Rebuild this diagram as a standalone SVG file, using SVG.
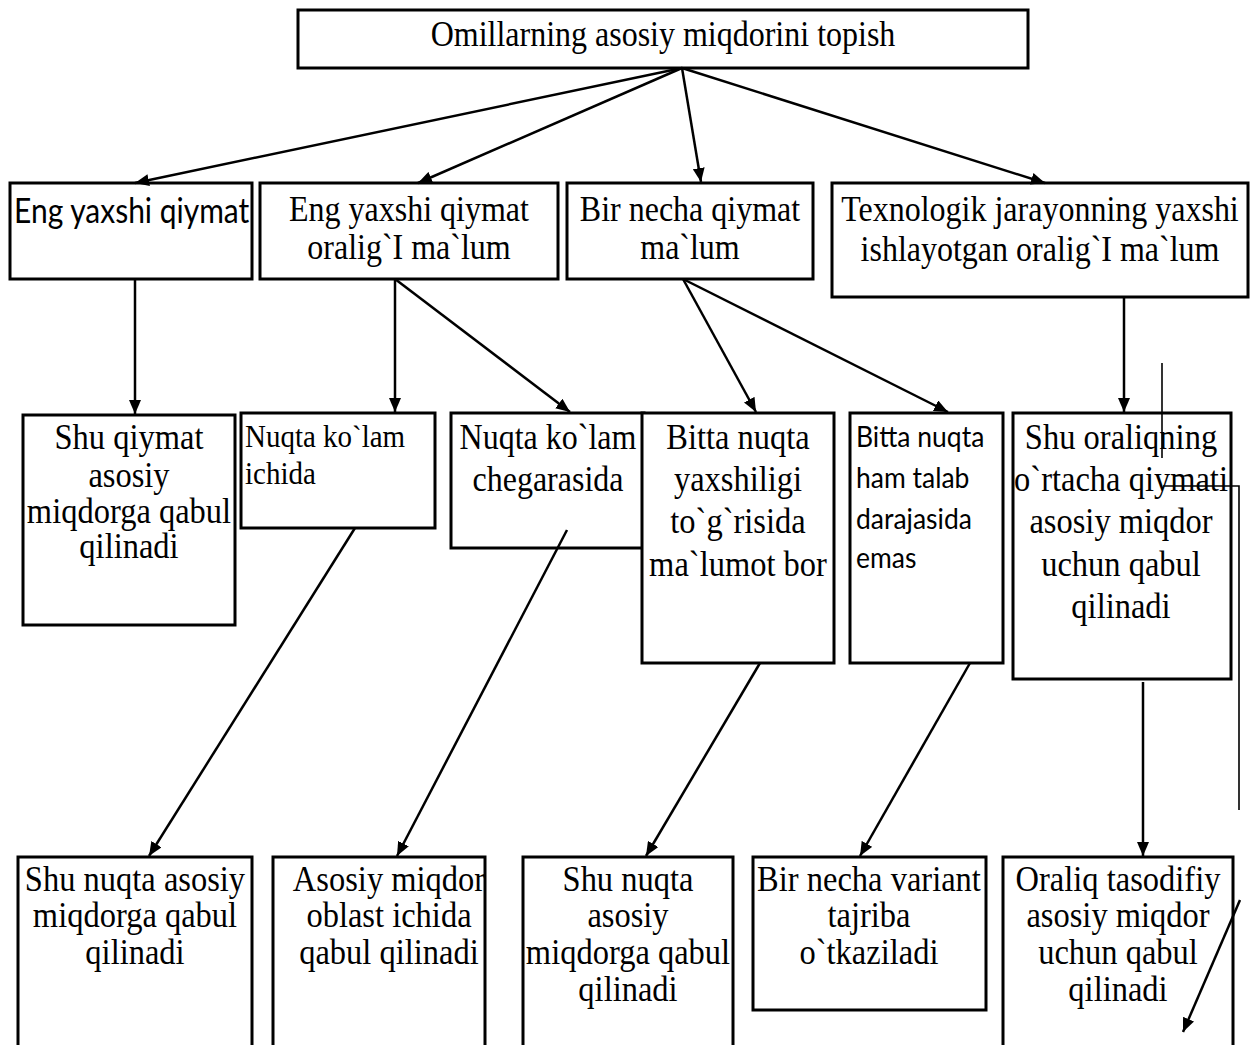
<svg xmlns="http://www.w3.org/2000/svg" width="1250" height="1045" viewBox="0 0 1250 1045">
<style>
.box{fill:#fff;stroke:#000;stroke-width:3}
.t{font-family:"Liberation Serif","Times New Roman",serif;font-size:32px;fill:#000;text-anchor:middle}
.t3{font-family:"Liberation Serif","Times New Roman",serif;font-size:32.5px;fill:#000;text-anchor:middle}
.tl{font-family:"Liberation Serif","Times New Roman",serif;font-size:29px;fill:#000}
.s{font-family:Lato,"Open Sans",sans-serif;fill:#000}
.c{fill:none;stroke:#000;stroke-width:2.5}
.thin{fill:none;stroke:#000;stroke-width:1.6}
</style>
<defs>
<marker id="ah" markerUnits="userSpaceOnUse" markerWidth="14" markerHeight="12" viewBox="0 0 14 12" refX="14" refY="6" orient="auto">
<path d="M0,0 L14,6 L0,12 z" fill="#000"/>
</marker>
</defs>
<rect width="1250" height="1045" fill="#fff"/>
<g id="n-top"><rect class="box" x="298" y="10" width="730" height="58"/><text class="t" transform="matrix(1 0 0 1.14 663 46)">Omillarning asosiy miqdorini topish</text></g>
<g id="n-a"><rect class="box" x="10" y="183" width="242" height="96"/><text class="s" font-size="30" transform="matrix(1 0 0 1.14 14 223)">Eng yaxshi qiymat</text></g>
<g id="n-b"><rect class="box" x="260" y="183" width="298" height="96"/><text class="t" transform="matrix(1 0 0 1.14 409 221)">Eng yaxshi qiymat</text><text class="t" transform="matrix(1 0 0 1.14 409 259)">oralig`I ma`lum</text></g>
<g id="n-c"><rect class="box" x="567" y="183" width="246" height="96"/><text class="t" transform="matrix(1 0 0 1.14 690 221)">Bir necha qiymat</text><text class="t" transform="matrix(1 0 0 1.14 690 259)">ma`lum</text></g>
<g id="n-d"><rect class="box" x="832" y="183" width="416" height="114"/><text class="t" transform="matrix(1 0 0 1.14 1040 221)">Texnologik jarayonning yaxshi</text><text class="t" transform="matrix(1 0 0 1.14 1040 261)">ishlayotgan oralig`I ma`lum</text></g>
<g id="n-e"><rect class="box" x="23" y="415" width="212" height="210"/><text class="t3" transform="matrix(1 0 0 1.12 129 449)">Shu qiymat</text><text class="t3" transform="matrix(1 0 0 1.12 129 487)">asosiy</text><text class="t3" transform="matrix(1 0 0 1.12 129 523)">miqdorga qabul</text><text class="t3" transform="matrix(1 0 0 1.12 129 558)">qilinadi</text></g>
<g id="n-f"><rect class="box" x="241" y="413" width="194" height="115"/><text class="tl" transform="matrix(1 0 0 1.12 245 447)">Nuqta ko`lam</text><text class="tl" transform="matrix(1 0 0 1.12 245 484)">ichida</text></g>
<g id="n-g"><rect class="box" x="451" y="413" width="193" height="135"/><text class="t" transform="matrix(1 0 0 1.12 548 449)">Nuqta ko`lam</text><text class="t" transform="matrix(1 0 0 1.12 548 491)">chegarasida</text></g>
<g id="n-h"><rect class="box" x="642" y="413" width="192" height="250"/><text class="t3" transform="matrix(1 0 0 1.12 738 449)">Bitta nuqta</text><text class="t3" transform="matrix(1 0 0 1.12 738 491)">yaxshiligi</text><text class="t3" transform="matrix(1 0 0 1.12 738 533)">to`g`risida</text><text class="t3" transform="matrix(1 0 0 1.12 738 576)">ma`lumot bor</text></g>
<g id="n-i"><rect class="box" x="850" y="413" width="153" height="250"/><g class="s" font-size="26.5"><text transform="matrix(1 0 0 1.12 856 447)">Bitta nuqta</text><text transform="matrix(1 0 0 1.12 856 488)">ham talab</text><text transform="matrix(1 0 0 1.12 856 529)">darajasida</text><text transform="matrix(1 0 0 1.12 856 568)">emas</text></g></g>
<g id="n-j"><rect class="box" x="1013" y="413" width="218" height="266"/><text class="t3" transform="matrix(1 0 0 1.12 1121 449)">Shu oraliqning</text><text class="t3" transform="matrix(1 0 0 1.12 1121 491)">o`rtacha qiymati</text><text class="t3" transform="matrix(1 0 0 1.12 1121 533)">asosiy miqdor</text><text class="t3" transform="matrix(1 0 0 1.12 1121 576)">uchun qabul</text><text class="t3" transform="matrix(1 0 0 1.12 1121 618)">qilinadi</text></g>
<g id="n-k"><rect class="box" x="18" y="857" width="234" height="220"/><text class="t3" transform="matrix(1 0 0 1.12 135 891)">Shu nuqta asosiy</text><text class="t3" transform="matrix(1 0 0 1.12 135 927)">miqdorga qabul</text><text class="t3" transform="matrix(1 0 0 1.12 135 964)">qilinadi</text></g>
<g id="n-l"><rect class="box" x="273" y="857" width="212" height="220"/><text class="t3" transform="matrix(1 0 0 1.12 389 891)">Asosiy miqdor</text><text class="t3" transform="matrix(1 0 0 1.12 389 927)">oblast ichida</text><text class="t3" transform="matrix(1 0 0 1.12 389 964)">qabul qilinadi</text></g>
<g id="n-m"><rect class="box" x="523" y="857" width="210" height="220"/><text class="t3" transform="matrix(1 0 0 1.12 628 891)">Shu nuqta</text><text class="t3" transform="matrix(1 0 0 1.12 628 927)">asosiy</text><text class="t3" transform="matrix(1 0 0 1.12 628 964)">miqdorga qabul</text><text class="t3" transform="matrix(1 0 0 1.12 628 1001)">qilinadi</text></g>
<g id="n-n"><rect class="box" x="753" y="857" width="233" height="153"/><text class="t3" transform="matrix(1 0 0 1.12 869 891)">Bir necha variant</text><text class="t3" transform="matrix(1 0 0 1.12 869 927)">tajriba</text><text class="t3" transform="matrix(1 0 0 1.12 869 964)">o`tkaziladi</text></g>
<g id="n-o"><rect class="box" x="1003" y="857" width="230" height="220"/><text class="t3" transform="matrix(1 0 0 1.12 1118 891)">Oraliq tasodifiy</text><text class="t3" transform="matrix(1 0 0 1.12 1118 927)">asosiy miqdor</text><text class="t3" transform="matrix(1 0 0 1.12 1118 964)">uchun qabul</text><text class="t3" transform="matrix(1 0 0 1.12 1118 1001)">qilinadi</text></g>
<g id="connectors">
<line class="c" x1="682" y1="68" x2="135" y2="183" marker-end="url(#ah)"/>
<line class="c" x1="682" y1="68" x2="418" y2="183" marker-end="url(#ah)"/>
<line class="c" x1="682" y1="68" x2="701" y2="182" marker-end="url(#ah)"/>
<line class="c" x1="682" y1="68" x2="1045" y2="183" marker-end="url(#ah)"/>
<line class="c" x1="135" y1="279" x2="135" y2="414" marker-end="url(#ah)"/>
<line class="c" x1="395" y1="279" x2="395" y2="412" marker-end="url(#ah)"/>
<line class="c" x1="395" y1="279" x2="570" y2="412" marker-end="url(#ah)"/>
<line class="c" x1="683" y1="279" x2="756" y2="412" marker-end="url(#ah)"/>
<line class="c" x1="683" y1="279" x2="948" y2="412" marker-end="url(#ah)"/>
<line class="c" x1="1124" y1="297" x2="1124" y2="412" marker-end="url(#ah)"/>
<line class="c" x1="1143" y1="682" x2="1143" y2="856" marker-end="url(#ah)"/>
<line class="c" x1="355" y1="528" x2="149" y2="856" marker-end="url(#ah)"/>
<line class="c" x1="567" y1="530" x2="397" y2="856" marker-end="url(#ah)"/>
<line class="c" x1="760" y1="663" x2="646" y2="856" marker-end="url(#ah)"/>
<line class="c" x1="970" y1="663" x2="860" y2="856" marker-end="url(#ah)"/>
<line class="c" x1="1240" y1="900" x2="1183" y2="1032" marker-end="url(#ah)"/>
<line class="thin" x1="1162" y1="363" x2="1162" y2="458"/>
<polyline class="thin" points="1163,486 1239,486 1239,810"/>
</g>
</svg>
